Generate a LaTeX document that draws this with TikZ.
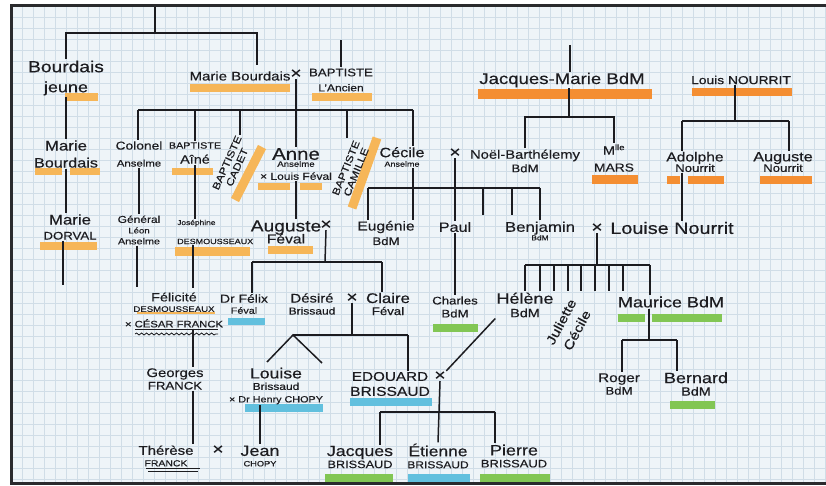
\documentclass[tikz,border=0pt]{standalone}
\usepackage{fontspec}
\setmainfont[FakeStretch=1.2, FakeBold=0.35]{Liberation Sans}
\usetikzlibrary{decorations.pathmorphing}

\definecolor{paper}{RGB}{238,244,248}
\definecolor{gridblue}{RGB}{208,221,231}
\definecolor{ink}{RGB}{28,28,32}
\definecolor{frameink}{RGB}{42,42,45}
\definecolor{hlorange}{RGB}{246,182,88}
\definecolor{hlfire}{RGB}{244,142,50}
\definecolor{hlblue}{RGB}{98,192,222}
\definecolor{hlgreen}{RGB}{130,198,84}

\newcommand{\fsz}[1]{\fontsize{#1}{13}\selectfont}

\begin{document}
\begin{tikzpicture}[
    x=1pt, y=-1pt,
    person/.style={align=center, inner sep=1pt, text=ink, font=\fontsize{12}{13}\selectfont},
    wed/.style={inner sep=0.5pt, text=ink, font=\fontsize{16}{16}\selectfont},
    kinline/.style={draw=ink, line width=1.5pt},
    hilite/.style={line width=8pt},
    gridline/.style={draw=gridblue, line width=0.5pt}
]

    % --- Paper and grid ---
    \useasboundingbox (0,0) rectangle (826,486);
    \fill[white] (0,0) rectangle (826,486);
    \fill[paper] (11,6) rectangle (826,483);
    \foreach \gx in {22,33,...,825} \draw[gridline] (\gx,6) -- (\gx,483);
    \foreach \gy in {17,28,...,482} \draw[gridline] (11,\gy) -- (826,\gy);

    % --- Marker highlights ---
    \draw[hilite, hlorange] (65,97) -- (98,97);
    \draw[hilite, hlorange] (190,88) -- (290,88);
    \draw[hilite, hlorange] (312,97) -- (372,97);
    \draw[hilite, hlorange, line width=7pt] (35,172) -- (62,172) (70,172) -- (100,172);
    \draw[hilite, hlorange, line width=7pt] (172,172) -- (213,172);
    \draw[hilite, hlorange, line width=9pt] (262,147) -- (235,200);
    \draw[hilite, hlorange, line width=7pt] (258,187) -- (290,187) (300,187) -- (322,187);
    \draw[hilite, hlorange, line width=9pt] (377,138) -- (352,208);
    \draw[hilite, hlorange] (40,246) -- (97,246);
    \draw[hilite, hlorange, line width=9pt] (175,251) -- (250,251);
    \draw[hilite, hlorange] (268,250) -- (313,250);
    \draw[hlorange, line width=2pt] (137,313) -- (215,313);
    \draw[hilite, hlfire, line width=10pt] (478,94) -- (652,94);
    \draw[hilite, hlfire] (692,92) -- (792,92);
    \draw[hilite, hlfire, line width=9pt] (592,180) -- (638,180);
    \draw[hilite, hlfire] (667,180) -- (680,180) (688,180) -- (724,180);
    \draw[hilite, hlfire] (760,180) -- (812,180);
    \draw[hilite, hlblue, line width=7pt] (228,321) -- (265,321);
    \draw[hilite, hlblue] (245,408) -- (323,408);
    \draw[hilite, hlblue] (350,402) -- (432,402);
    \draw[hilite, hlblue, line width=9pt] (408,478) -- (470,478);
    \draw[hilite, hlgreen] (433,328) -- (478,328);
    \draw[hilite, hlgreen] (618,318) -- (645,318) (652,318) -- (722,318);
    \draw[hilite, hlgreen] (670,405) -- (715,405);
    \draw[hilite, hlgreen, line width=9pt] (325,478) -- (393,478);
    \draw[hilite, hlgreen, line width=9pt] (480,478) -- (550,478);

    % --- Generation 1 ---
    \node[person] (bj) at (66,78) {{\fsz{16}Bourdais}\\[7pt]{\fsz{15}jeune}};
    \node[person] (mbx) at (240,76) {\fsz{12.5}Marie Bourdais};
    \node[wed] (x1) at (296,74) {×};
    \node[person] (bap) at (341,80) {{\fsz{11}BAPTISTE}\\[2pt]{\fsz{10}L'Ancien}};
    \node[person] (jm) at (562,80) {\fsz{15.5}Jacques-Marie BdM};
    \node[person] (ln) at (741,80) {\fsz{11.5}Louis NOURRIT};

    % --- Generation 2 ---
    \node[person] (mb2) at (66,154) {{\fsz{14}Marie}\\[4pt]{\fsz{13.5}Bourdais}};
    \node[person] (col) at (139,154) {{\fsz{11.5}Colonel}\\[4pt]{\fsz{9.5}Anselme}};
    \node[person] (ba) at (195,153) {{\fsz{9}BAPTISTE}\\[2pt]{\fsz{12}Aîné}};
    \node[person, rotate=66] (bc) at (232,165) {{\fsz{10}BAPTISTE}\\[-2pt]{\fsz{10}CADET}};
    \node[person] (anne) at (296,164) {{\fsz{17}Anne}\\[-6pt]{\fsz{8}Anselme}\\[0pt]{\fsz{10}× Louis Féval}};
    \node[person, rotate=68] (bcam) at (351,170) {{\fsz{10}BAPTISTE}\\[-2pt]{\fsz{10}CAMILLE}};
    \node[person] (cec) at (402,157) {{\fsz{13.5}Cécile}\\[-3.5pt]{\fsz{7.5}Anselme}};
    \node[wed] (x2) at (455,153) {×};
    \node[person] (noel) at (525,161) {{\fsz{12.3}Noël-Barthélemy}\\[0.5pt]{\fsz{11}BdM}};
    \node[person] (mars) at (614,158) {{\fsz{12}M\textsuperscript{lle}}\\[4pt]{\fsz{11.5}MARS}};
    \node[person] (adol) at (695,162) {{\fsz{13}Adolphe}\\[-2.5pt]{\fsz{11}Nourrit}};
    \node[person] (aug) at (783,162) {{\fsz{13.5}Auguste}\\[-2.5pt]{\fsz{11}Nourrit}};

    % --- Generation 3 ---
    \node[person] (md) at (70,227) {{\fsz{14}Marie}\\[2pt]{\fsz{11}DORVAL}};
    \node[person] (gen) at (139,230) {{\fsz{10}Général}\\[-2.5pt]{\fsz{8}Léon}\\[-2pt]{\fsz{9}Anselme}};
    \node[person, anchor=west, align=left] (jos) at (176,232) {{\fsz{7}Joséphine}\\[6pt]{\fsz{7.5}DESMOUSSEAUX}};
    \node[person] (augf) at (286,232) {{\fsz{16}Auguste}\\[-1pt]{\fsz{13}Féval}};
    \node[wed] (x3) at (326,225) {×};
    \node[person] (eug) at (386,233) {{\fsz{13}Eugénie}\\[1.5pt]{\fsz{11}BdM}};
    \node[person] (paul) at (455,227) {\fsz{13.5}Paul};
    \node[person] (benj) at (540,231) {{\fsz{14}Benjamin}\\[-4.5pt]{\fsz{7}BdM}};
    \node[wed] (x4) at (597,228) {×};
    \node[person] (lou) at (672,228) {\fsz{16.5}Louise Nourrit};

    % --- Generation 4 ---
    \node[person] (fel) at (174,310) {{\fsz{12}Félicité}\\[-2.5pt]{\fsz{8}DESMOUSSEAUX}\\[2.5pt]{\fsz{9.4}× CÉSAR FRANCK}};
    \node[person] (drf) at (244,304) {{\fsz{11.6}Dr Félix}\\[-2pt]{\fsz{9}Féval}};
    \node[person] (des) at (312,304) {{\fsz{12.4}Désiré}\\[-1pt]{\fsz{10}Brissaud}};
    \node[wed] (x5) at (352,298) {×};
    \node[person] (cla) at (388,304) {{\fsz{14}Claire}\\[-1pt]{\fsz{11}Féval}};
    \node[person] (cha) at (455,307) {{\fsz{11}Charles}\\{\fsz{11}BdM}};
    \node[person] (hel) at (525,305) {{\fsz{15}Hélène}\\[0.5pt]{\fsz{12}BdM}};
    \node[person, rotate=62] (jul) at (569,326) {{\fsz{13}Juliette}\\[5pt]{\fsz{13}Cécile}};
    \node[person] (mau) at (671,302) {\fsz{15}Maurice BdM};

    % --- Generation 5 ---
    \node[person] (geo) at (175,379) {{\fsz{12.4}Georges}\\[-0.5pt]{\fsz{11}FRANCK}};
    \node[person] (lbr) at (276,386) {{\fsz{14.7}Louise}\\[-1.5pt]{\fsz{10}Brissaud}\\[-0.5pt]{\fsz{9}× Dr Henry CHOPY}};
    \node[person] (edo) at (390,384) {{\fsz{12.7}EDOUARD}\\[2pt]{\fsz{13}BRISSAUD}};
    \node[wed] (x6) at (440,376) {×};
    \node[person] (rog) at (619,384) {{\fsz{12.8}Roger}\\[-0.5pt]{\fsz{11}BdM}};
    \node[person] (ber) at (696,384) {{\fsz{15}Bernard}\\[-0.5pt]{\fsz{12}BdM}};

    % --- Generation 6 ---
    \node[person] (the) at (166,456) {{\fsz{12.5}Thérèse}\\[-1.5pt]{\fsz{8.7}FRANCK}};
    \node[wed] (x7) at (218,450) {×};
    \node[person] (jean) at (260,456) {{\fsz{15}Jean}\\[-2.5pt]{\fsz{7.7}CHOPY}};
    \node[person] (jac) at (360,457) {{\fsz{14.8}Jacques}\\[-1pt]{\fsz{10.6}BRISSAUD}};
    \node[person] (eti) at (438,456) {{\fsz{14.5}Étienne}\\[-1pt]{\fsz{10}BRISSAUD}};
    \node[person] (pie) at (514,456) {{\fsz{15}Pierre}\\[-1pt]{\fsz{10.8}BRISSAUD}};

    % --- Underlines ---
    \draw[ink, line width=0.8pt] (135,329) -- (218,329);
    \draw[ink, line width=0.8pt, decorate, decoration={snake, amplitude=1pt, segment length=5pt}] (135,334) -- (218,334);
    \draw[ink, line width=0.8pt] (146,468) -- (200,468) (148,471) -- (198,471);

    % --- Bourdais root ---
    \coordinate (root) at (155,6);
    \coordinate (rootbar) at (155,33);
    \coordinate (mbxtop) at (257,65);
    \draw[kinline] (root) -- (rootbar);
    \draw[kinline] (bj.north) |- (rootbar) -| (mbxtop);
    \coordinate (baptop) at (341,40);
    \draw[kinline] (baptop) -- (bap.north);

    % --- Children of Marie Bourdais x Baptiste ---
    \coordinate (k1w) at (138,110);
    \coordinate (k1e) at (413,110);
    \coordinate (bctop) at (240,135);
    \coordinate (bcamtop) at (347,138);
    \draw[kinline] (k1w) -- (k1e);
    \draw[kinline] (x1.south) -- (anne.north);
    \draw[kinline] (k1w) -- (col.north -| k1w);
    \draw[kinline] (ba.north |- k1w) -- (ba.north);
    \draw[kinline] (bctop |- k1w) -- (bctop);
    \draw[kinline] (bcamtop |- k1w) -- (bcamtop);
    \draw[kinline] (k1e) -- (cec.north -| k1e);

    % --- Bourdais jeune down to Marie Dorval ---
    \draw[kinline] (bj.south) -- (mb2.north);
    \draw[kinline] (mb2.south) -- (md.north -| mb2.south);
    \coordinate (mdend) at (63,285);
    \draw[kinline] (md.south -| mdend) -- (mdend);

    % --- Anselme and Desmousseaux lines ---
    \draw[kinline] (col.south) -- (gen.north);
    \coordinate (genend) at (137,287);
    \draw[kinline] (gen.south -| genend) -- (genend);
    \draw[kinline] (ba.south) -- (jos.north -| ba.south);
    \coordinate (felline) at (193,288);
    \draw[kinline] (jos.south -| felline) -- (felline);
    \draw[kinline] (fel.south -| felline) -- (geo.north -| felline);
    \draw[kinline] (geo.south -| felline) -- (the.north -| felline);
    \draw[kinline] (anne.south) -- (augf.north -| anne.south);

    % --- Jacques-Marie BdM ---
    \coordinate (jmtop) at (570,45);
    \coordinate (k4) at (569,117);
    \draw[kinline] (jmtop) -- (jm.north -| jmtop);
    \draw[kinline] (jm.south -| k4) -- (k4);
    \draw[kinline] (noel.north) |- (k4) -| (mars.north);

    % --- Louis Nourrit ---
    \coordinate (k5) at (735,121);
    \coordinate (k5w) at (682,121);
    \coordinate (k5e) at (789,121);
    \draw[kinline] (ln.south -| k5) -- (k5);
    \draw[kinline] (k5w) -- (k5e);
    \draw[kinline] (k5w) -- (adol.north -| k5w);
    \draw[kinline] (k5e) -- (aug.north -| k5e);
    \draw[kinline] (adol.south -| k5w) -- (lou.north -| k5w);

    % --- Children of Cecile x Noel-Barthelemy ---
    \coordinate (k3w) at (368,188);
    \coordinate (k3e) at (540,188);
    \coordinate (kid3a) at (483,215);
    \coordinate (kid3b) at (512,215);
    \draw[kinline] (k3w) -- (k3e);
    \draw[kinline] (x2.south) -- (paul.north);
    \draw[kinline] (k3w) -- (eug.north -| k3w);
    \draw[kinline] (cec.south -| k1e) -- (eug.north -| k1e);
    \draw[kinline] (kid3a |- k3w) -- (kid3a);
    \draw[kinline] (kid3b |- k3w) -- (kid3b);
    \draw[kinline] (k3e) -- (benj.north);
    \draw[kinline] (paul.south) -- (cha.north);

    % --- Children of Auguste x Eugenie ---
    \coordinate (k7) at (325,262);
    \coordinate (k7w) at (252,262);
    \coordinate (k7e) at (382,262);
    \draw[kinline] (x3.south) -- (k7);
    \draw[kinline] (k7w) -- (k7e);
    \draw[kinline] (k7w) -- (drf.north -| k7w);
    \draw[kinline] (k7e) -- (cla.north -| k7e);

    % --- Children of Desire x Claire ---
    \coordinate (k8) at (352,335);
    \coordinate (k8w) at (293,335);
    \coordinate (k8e) at (408,335);
    \coordinate (lamL) at (267,362);
    \coordinate (lamR) at (322,363);
    \draw[kinline] (x5.south) -- (k8);
    \draw[kinline] (k8w) -- (k8e);
    \draw[kinline] (k8e) -- (edo.north -| k8e);
    \draw[kinline] (lamL) -- (k8w) -- (lamR);
    \draw[kinline] (lbr.south -| jean.north) -- (jean.north);

    % --- Children of Benjamin x Louise ---
    \coordinate (k9) at (597,265);
    \coordinate (k9w) at (525,265);
    \coordinate (k9e) at (650,265);
    \draw[kinline] (x4.south) -- (k9);
    \draw[kinline] (k9w) -- (k9e);
    \draw[kinline] (k9w) -- (hel.north);
    \draw[kinline] (k9e) -- (mau.north -| k9e);
    \foreach \dx in {15,29,43,56,70,84,98}
        \draw[kinline] ([xshift=\dx pt]k9w) -- ++(0,26);

    % --- Edouard x Helene and children ---
    \coordinate (k10w) at (380,412);
    \coordinate (k10e) at (495,412);
    \draw[kinline] (x6.north east) -- (hel.south west);
    \draw[kinline] (x6.south) -- (eti.north);
    \draw[kinline] (k10w) -- (k10e);
    \draw[kinline] (k10w) -- (jac.north -| k10w);
    \draw[kinline] (k10e) -- (pie.north -| k10e);

    % --- Children of Maurice ---
    \coordinate (k11) at (649,340);
    \coordinate (k11w) at (622,340);
    \coordinate (k11e) at (677,340);
    \draw[kinline] (mau.south -| k11) -- (k11);
    \draw[kinline] (k11w) -- (k11e);
    \draw[kinline] (k11w) -- (rog.north -| k11w);
    \draw[kinline] (k11e) -- (ber.north -| k11e);

    % --- Frame ---
    \draw[frameink, line width=3pt] (826,6) -- (11,6) -- (11,483) -- (826,483);

\end{tikzpicture}
\end{document}
